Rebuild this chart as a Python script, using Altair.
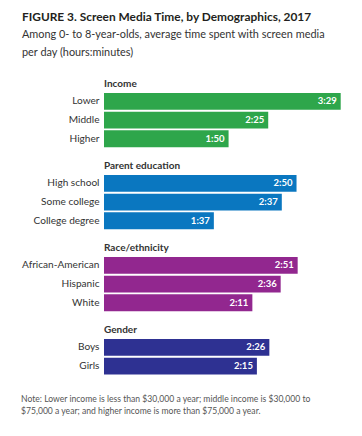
import altair as alt
import pandas as pd

# ---- data ----
groups = ["Income", "Parent education", "Race/ethnicity", "Gender"]
categories = [
    ["Lower", "Middle", "Higher"],
    ["High school", "Some college", "College degree"],
    ["African-American", "Hispanic", "White"],
    ["Boys", "Girls"],
]
times = [
    ["3:29", "2:25", "1:50"],
    ["2:50", "2:37", "1:37"],
    ["2:51", "2:36", "2:11"],
    ["2:26", "2:15"],
]
colors = ["#2ea64b", "#0a77c0", "#92278f", "#2e3192"]
title_text = "FIGURE 3. Screen Media Time, by Demographics, 2017"
subtitle_lines = [
    "Among 0- to 8-year-olds, average time spent with screen media",
    "per day (hours:minutes)",
]
note_lines = [
    "Note: Lower income is less than $30,000 a year; middle income is $30,000 to",
    "$75,000 a year; and higher income is more than $75,000 a year.",
]

FONT = "Lato"
STEP = 18.7
X_MAX = 215
W = 243.5
AXIS_W = 83


def to_minutes(t):
    h, m = t.split(":")
    return int(h) * 60 + int(m)


def panel(group, cats, ts, color, with_note=False):
    df = pd.DataFrame({"category": cats, "time": ts,
                       "minutes": [to_minutes(t) for t in ts]})
    base = alt.Chart(df).encode(
        y=alt.Y("category:N", sort=cats,
                scale=alt.Scale(paddingInner=0.1, paddingOuter=0.05),
                axis=alt.Axis(title=None, domain=False, ticks=False, labelPadding=5,
                              labelFont=FONT, labelFontSize=10.1, labelColor="#333333",
                              minExtent=AXIS_W, maxExtent=AXIS_W, labelLimit=200)),
        x=alt.X("minutes:Q", scale=alt.Scale(domain=[0, X_MAX]), axis=None),
    )
    bars = base.mark_bar(color=color)
    labels = base.mark_text(align="right", dx=-4, font=FONT, fontSize=9.5,
                            fontWeight="bold", color="white").encode(text="time:N")
    layers = [bars, labels]
    if with_note:
        note = alt.Chart(pd.DataFrame({"text": ["\n".join(note_lines)]})).mark_text(
            align="left", baseline="top", lineBreak="\n", lineHeight=11.6,
            font=FONT, fontSize=8.6, color="#555555"
        ).encode(text="text:N", x=alt.value(-AXIS_W),
                 y=alt.value(len(cats) * STEP + 20))
        layers.append(note)
    return alt.layer(*layers).properties(
        width=W, height=alt.Step(STEP),
        title=alt.TitleParams(group, anchor="start", frame="group", font=FONT,
                              fontSize=10, fontWeight="bold", color="#333333", offset=3),
    )


panels = [panel(g, c, t, col, with_note=(i == len(groups) - 1))
          for i, (g, c, t, col) in enumerate(zip(groups, categories, times, colors))]

chart = alt.vconcat(*panels, spacing=12).properties(
    title=alt.TitleParams(
        text=title_text, subtitle=subtitle_lines, anchor="start", frame="bounds",
        font=FONT, fontSize=11.9, fontWeight="bold", color="#231f20",
        subtitleFont=FONT, subtitleFontSize=10.9, subtitleColor="#333333",
        subtitleLineHeight=18, subtitlePadding=5, offset=20, dx=1,
    ),
    padding={"left": 13, "top": 3, "right": 1, "bottom": 5},
).configure_view(stroke=None)

chart.save("out.html", embed_options={"renderer": "svg", "actions": False})
